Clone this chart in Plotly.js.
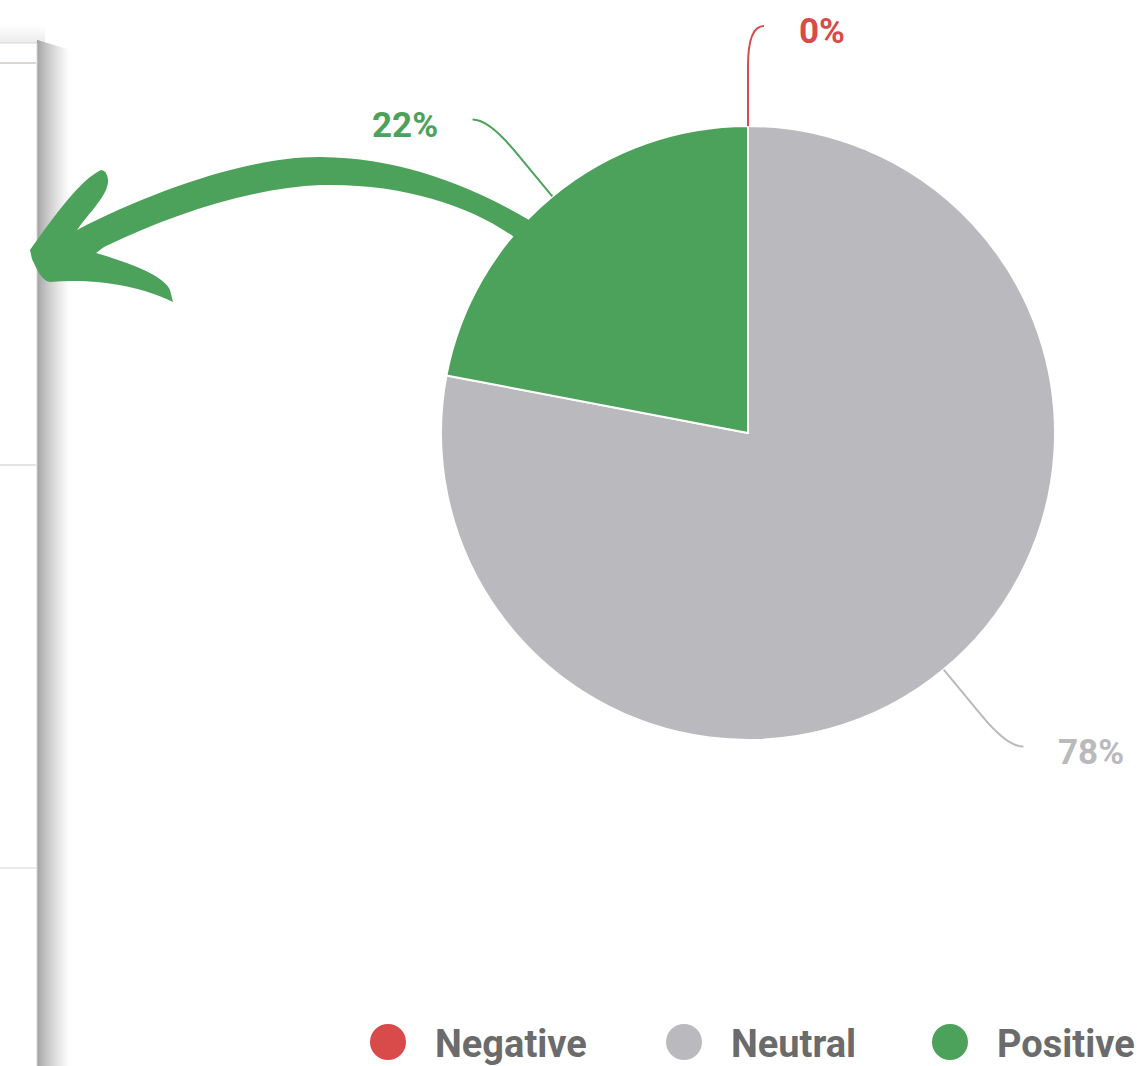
<!DOCTYPE html>
<html>
<head>
<meta charset="utf-8">
<script src="https://cdn.plot.ly/plotly-3.0.1.min.js"></script>
<style>html,body{margin:0;padding:0;background:#fff;}#chart{width:1141px;height:1066px;}</style>
</head>
<body>
<div id="chart"></div>
<script>
// ---- data ----
const categories = ['Negative', 'Neutral', 'Positive'];
const values = [0, 78, 22];
const sliceColors = ['#D94A4A', '#BAB9BE', '#4CA25A'];

// ---- layout constants ----
const W = 1141, H = 1066;
const CX = 748, CY = 433, R = 307;
const legendX = [388, 684, 950];
const legendY = 1042;

const X = px => px / W;
const Y = py => 1 - py / H;
function path(cmds) {
  return cmds.map(c => c[0] + (c.length > 1 ? ' ' + c.slice(1).map((v, i) => (i % 2 === 0 ? X(v) : Y(v)).toFixed(5)).join(',') : '')).join(' ');
}

const shapes = [];
const annotations = [];

// ---- left card decoration ----
for (let i = 0; i < 18; i++) {
  const v = Math.round(236 + (255 - 236) * (i / 18));
  shapes.push({type: 'rect', xref: 'paper', yref: 'paper', layer: 'below',
    x0: X(-5), x1: X(45), y0: Y(43 - i), y1: Y(42 - i),
    fillcolor: `rgb(${v},${v},${v})`, line: {width: 0}});
}
for (let i = 0; i < 32; i++) {
  const v = Math.round(160 + (255 - 160) * Math.pow(i / 32, 0.75));
  shapes.push({type: 'rect', xref: 'paper', yref: 'paper', layer: 'below',
    x0: X(37 + i), x1: X(38 + i), y0: Y(H + 5), y1: Y(40 + i * 0.3),
    fillcolor: `rgb(${v},${v},${v})`, line: {width: 0}});
}
shapes.push({type: 'rect', xref: 'paper', yref: 'paper', layer: 'below',
  x0: X(-5), x1: X(37), y0: Y(H + 5), y1: Y(43),
  fillcolor: '#ffffff', line: {color: '#d6d6d6', width: 1}});
[[63, '#dcd7d2'], [465, '#e4e4e4'], [868, '#ebebeb']].forEach(([yy, c]) => {
  shapes.push({type: 'line', xref: 'paper', yref: 'paper', layer: 'below',
    x0: X(0), x1: X(36), y0: Y(yy), y1: Y(yy), line: {color: c, width: 2}});
});

// ---- hand-drawn arrow ----
shapes.push({type: 'path', xref: 'paper', yref: 'paper', layer: 'above',
  fillcolor: sliceColors[2], line: {width: 0},
  path: path([
    ['M', 548, 240], ['L', 529, 220],
    ['C', 470, 185, 400, 158, 321, 157],
    ['C', 250, 156, 150, 192, 77, 230],
    ['C', 90, 212, 109, 194, 108, 180],
    ['Q', 107, 170, 101, 170],
    ['C', 80, 180, 55, 215, 30, 250],
    ['L', 32, 259],
    ['C', 37, 270, 42, 281, 50, 282],
    ['C', 90, 278, 140, 285, 173, 302],
    ['L', 170, 290],
    ['C', 165, 278, 140, 266, 96, 253],
    ['L', 104, 247],
    ['C', 170, 215, 250, 188, 321, 185],
    ['C', 400, 183, 470, 205, 514, 237],
    ['L', 540, 262], ['Z']
  ])});

// ---- data labels with connectors (computed from values) ----
const total = values.reduce((a, b) => a + b, 0);
let cum = 0;
values.forEach((v, i) => {
  const mid = (cum + v / 2) / total * 2 * Math.PI;
  cum += v;
  const s = Math.sin(mid), c = Math.cos(mid);
  const side = s >= -1e-9 ? 1 : -1;
  const pt = d => [CX + d * s, CY - d * c];
  const p0 = pt(R), p1 = pt(R + 60), pc = pt(R + 100);
  const pe = [pc[0] + side * 16, pc[1]];
  shapes.push({type: 'path', xref: 'paper', yref: 'paper', layer: 'above',
    line: {color: sliceColors[i], width: 2},
    path: path([['M', p0[0], p0[1]], ['L', p1[0], p1[1]], ['Q', pc[0], pc[1], pe[0], pe[1]]])});
  annotations.push({xref: 'paper', yref: 'paper', showarrow: false,
    x: X(pe[0] + side * 33), y: Y(pe[1] + 6),
    xanchor: side > 0 ? 'left' : 'right', yanchor: 'middle',
    text: Math.round(v / total * 100) + '%',
    font: {family: 'Roboto, sans-serif', size: 35, weight: 'bold', color: sliceColors[i]}});
});

// ---- legend ----
categories.forEach((name, i) => {
  shapes.push({type: 'circle', xref: 'paper', yref: 'paper', layer: 'above',
    x0: X(legendX[i] - 18), x1: X(legendX[i] + 18), y0: Y(legendY - 18), y1: Y(legendY + 18),
    fillcolor: sliceColors[i], line: {width: 0}});
  annotations.push({xref: 'paper', yref: 'paper', showarrow: false,
    x: X(legendX[i] + 45), y: Y(legendY + 2), xanchor: 'left', yanchor: 'middle',
    text: name, font: {family: 'Roboto, sans-serif', size: 38, weight: 'bold', color: '#6b6b6b'}});
});

const trace = {
  type: 'pie', labels: categories, values: values, sort: false,
  direction: 'clockwise', rotation: 0, textinfo: 'none', hoverinfo: 'label+percent',
  marker: {colors: sliceColors, line: {color: '#ffffff', width: 2}},
  domain: {x: [X(CX - R), X(CX + R)], y: [Y(CY + R), Y(CY - R)]},
  showlegend: false
};

Plotly.newPlot('chart', [trace], {
  width: W, height: H, margin: {l: 0, r: 0, t: 0, b: 0},
  paper_bgcolor: '#ffffff', showlegend: false,
  shapes: shapes, annotations: annotations
}, {displayModeBar: false, staticPlot: true});
</script>
</body>
</html>
